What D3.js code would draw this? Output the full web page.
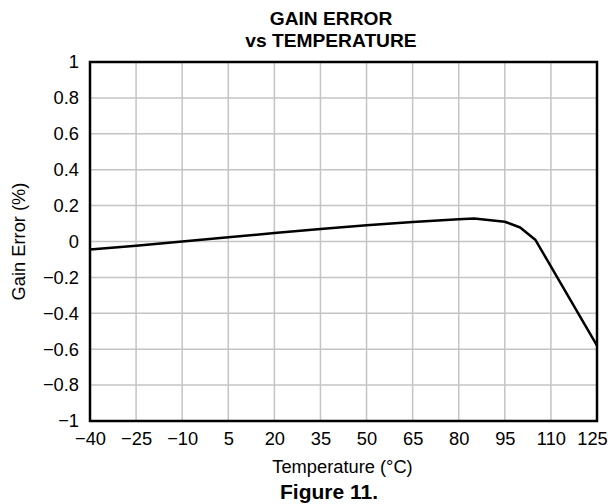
<!DOCTYPE html>
<html>
  <head>
    <meta charset="utf-8">
    <title>Gain Error vs Temperature</title>
    <style type="text/css">
      body {
        margin: 0;
        background: #fff;
        font-family: "Liberation Sans", Arial, sans-serif;
      }
      .grid line {
        stroke: #c4c4c4;
        stroke-width: 1.5px;
      }
      .axis text {
        font-size: 18.3px;
        fill: #000;
      }
      .title {
        font-size: 19.2px;
        font-weight: bold;
      }
      .label {
        font-size: 18.3px;
      }
    </style>
  </head>
  <body>
    <script src="https://d3js.org/d3.v7.min.js"></script>
    <script>
    // data
    var temps = [-40, -25, -10, 5, 20, 35, 50, 65, 80, 85, 95, 100, 105, 125];
    var gainErr = [-0.045, -0.024, 0.0, 0.024, 0.047, 0.069, 0.09, 0.108, 0.124, 0.128, 0.11, 0.078, 0.008, -0.58];
    var xTicks = [-40, -25, -10, 5, 20, 35, 50, 65, 80, 95, 110, 125];
    var yTicks = [-1, -0.8, -0.6, -0.4, -0.2, 0, 0.2, 0.4, 0.6, 0.8, 1];
    var titleLines = ["GAIN ERROR", "vs TEMPERATURE"];

    var W = 613, H = 504;
    var margin = {top: 62, right: 16, bottom: 83, left: 90};
    var width = W - margin.left - margin.right,
        height = H - margin.top - margin.bottom;

    var x = d3.scaleLinear().domain([-40, 125]).range([0, width]);
    var y = d3.scaleLinear().domain([-1, 1]).range([height, 0]);

    function fmt(v) {
      var s = d3.format("")(+v.toFixed(1));
      return s.replace("-", "\u2212");
    }

    var root = d3.select("body").append("svg")
        .attr("width", W)
        .attr("height", H);

    var svg = root.append("g")
        .attr("transform", "translate(" + margin.left + "," + margin.top + ")");

    // grid
    var grid = svg.append("g").attr("class", "grid");
    grid.selectAll("line.v")
        .data(xTicks.slice(1, -1))
      .enter().append("line")
        .attr("class", "v")
        .attr("x1", function(d) { return x(d); })
        .attr("x2", function(d) { return x(d); })
        .attr("y1", 0)
        .attr("y2", height);
    grid.selectAll("line.h")
        .data(yTicks.slice(1, -1))
      .enter().append("line")
        .attr("class", "h")
        .attr("x1", 0)
        .attr("x2", width)
        .attr("y1", function(d) { return y(d); })
        .attr("y2", function(d) { return y(d); });

    // axes (labels only)
    var xAxis = d3.axisBottom(x)
        .tickValues(xTicks)
        .tickSize(0)
        .tickPadding(11)
        .tickFormat(fmt);
    var yAxis = d3.axisLeft(y)
        .tickValues(yTicks)
        .tickSize(0)
        .tickPadding(11)
        .tickFormat(fmt);

    var gx = svg.append("g")
        .attr("class", "x axis")
        .attr("transform", "translate(0," + height + ")")
        .call(xAxis);
    gx.select(".domain").remove();
    // last label is pulled in a little so it stays on the page
    gx.selectAll(".tick text")
        .filter(function(d) { return d === 125; })
        .attr("dx", -5);

    svg.append("g")
        .attr("class", "y axis")
        .call(yAxis)
        .call(function(g) { g.select(".domain").remove(); });

    // curve
    var pts = temps.map(function(t, i) { return [t, gainErr[i]]; });
    var line = d3.line()
        .x(function(d) { return x(d[0]); })
        .y(function(d) { return y(d[1]); });

    svg.append("path")
        .datum(pts)
        .attr("d", line)
        .attr("fill", "none")
        .attr("stroke", "#000")
        .attr("stroke-width", 2.5)
        .attr("stroke-linejoin", "round");

    // frame
    svg.append("rect")
        .attr("x", 0)
        .attr("y", 0)
        .attr("width", width)
        .attr("height", height)
        .attr("fill", "none")
        .attr("stroke", "#000")
        .attr("stroke-width", 2.5);

    // title, two tight lines, a bit left of the plot centre
    var cx = margin.left + width / 2;
    var headX = 331;
    root.selectAll("text.title-line")
        .data(titleLines)
      .enter().append("text")
        .attr("class", "title title-line")
        .attr("x", headX)
        .attr("y", function(d, i) { return 25.2 + i * 21.5; })
        .attr("text-anchor", "middle")
        .text(function(d) { return d; });

    root.append("text")
        .attr("class", "label")
        .attr("x", cx - 1)
        .attr("y", 473)
        .attr("text-anchor", "middle")
        .text("Temperature (\u00b0C)");

    root.append("text")
        .attr("class", "label")
        .attr("transform", "translate(25," + (margin.top + height / 2) + ") rotate(-90)")
        .attr("text-anchor", "middle")
        .text("Gain Error (%)");

    root.append("text")
        .attr("class", "title")
        .style("font-size", "21px")
        .attr("x", 329)
        .attr("y", 499)
        .attr("text-anchor", "middle")
        .text("Figure 11.");
    </script>
  </body>
</html>
